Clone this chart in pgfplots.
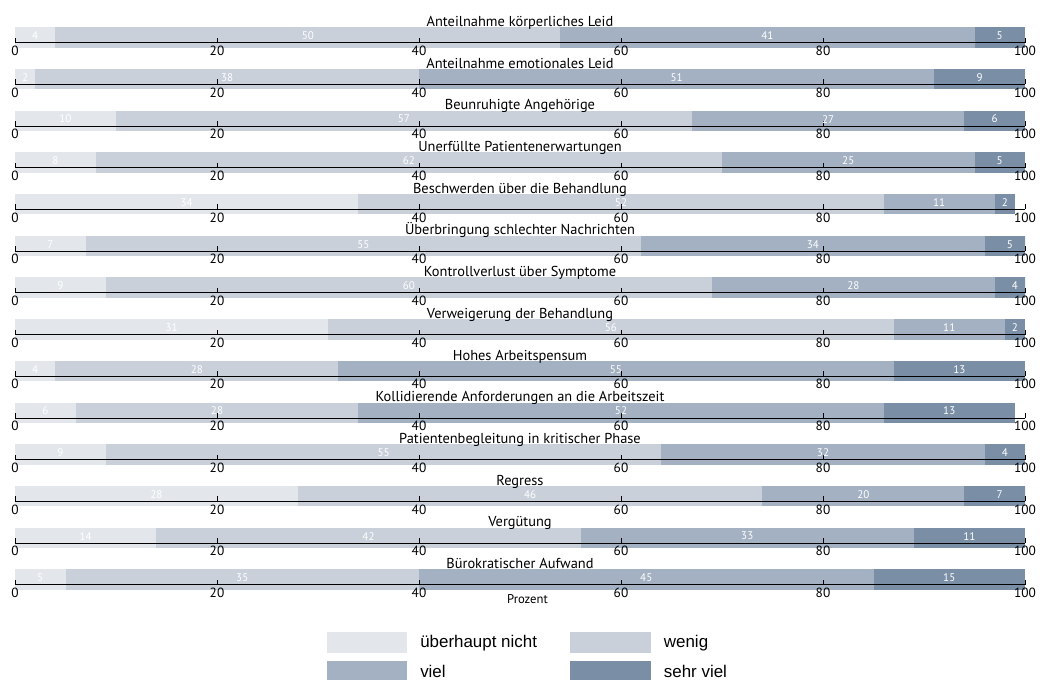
\documentclass[border=0pt]{standalone}
\usepackage{fontspec}
\setmainfont{PT Sans}
\newfontfamily\arialfont{Liberation Sans}
\usepackage{pgfplots}
\pgfplotsset{compat=1.18}

\definecolor{c1}{HTML}{E3E7EB}
\definecolor{c2}{HTML}{C9D0DA}
\definecolor{c3}{HTML}{A3B1C2}
\definecolor{c4}{HTML}{7A8EA6}

\pgfplotsset{
 barframe/.style={
  scale only axis, width=757.5pt, height=15.3pt,
  anchor=south west, hide axis,
  xmin=0, xmax=100, ymin=-5, ymax=15.4,
  xbar stacked, bar width=20.4,
 },
 lineframe/.style={
  scale only axis, width=757.5pt, height=11.55pt,
  anchor=south west,
  xmin=0, xmax=100, ymin=0, ymax=15.4,
  axis y line=none, axis x line=bottom,
  axis line style={-, black, line width=0.6pt},
  xtick={0,20,40,60,80,100}, ytick=\empty,
  xtick align=inside, major tick length=3.75pt,
  tick style={black, line width=0.6pt},
  /pgf/number format/assume math mode=true,
  xticklabel style={font=\fontsize{10}{11}\selectfont, anchor=north, inner sep=0pt, yshift=-2.2pt},
  every axis title shift=0pt,
  title style={font=\fontsize{10.8}{12}\selectfont, at={(0.5,1)}, anchor=base, yshift=0.6pt, inner sep=0pt},
 }}

\newcommand{\panel}[6]{%
  \pgfmathsetmacro{\yb}{-(47.7+41.7*#1)*0.75}%
  \pgfmathsetmacro{\yl}{-(42.7+41.7*#1)*0.75}%
  \pgfmathsetmacro{\ma}{#3/2}%
  \pgfmathsetmacro{\mb}{#3+#4/2}%
  \pgfmathsetmacro{\mc}{#3+#4+#5/2}%
  \pgfmathsetmacro{\md}{#3+#4+#5+#6/2}%
  \begin{axis}[barframe, at={(11.25pt,\yb pt)}]
    \addplot[fill=c1, draw=none] coordinates {(#3,5.2)};
    \addplot[fill=c2, draw=none] coordinates {(#4,5.2)};
    \addplot[fill=c3, draw=none] coordinates {(#5,5.2)};
    \addplot[fill=c4, draw=none] coordinates {(#6,5.2)};
  \end{axis}%
  \begin{axis}[lineframe, at={(11.25pt,\yl pt)}, title={#2}]
    \addplot[draw=none, nodes near coords,
      point meta=explicit symbolic,
      every node near coord/.style={anchor=center, inner sep=0pt, text=white,
        font=\fontsize{8.3}{9}\selectfont}]
      coordinates {(\ma,7) [#3] (\mb,7) [#4] (\mc,7) [#5] (\md,7) [#6]};
  \end{axis}%
}

\begin{document}
\begin{tikzpicture}
\path[use as bounding box] (0pt,0pt) rectangle (780pt,-510pt);
\panel{0}{Anteilnahme körperliches Leid}{4}{50}{41}{5}
\panel{1}{Anteilnahme emotionales Leid}{2}{38}{51}{9}
\panel{2}{Beunruhigte Angehörige}{10}{57}{27}{6}
\panel{3}{Unerfüllte Patientenerwartungen}{8}{62}{25}{5}
\panel{4}{Beschwerden über die Behandlung}{34}{52}{11}{2}
\panel{5}{Überbringung schlechter Nachrichten}{7}{55}{34}{5}
\panel{6}{Kontrollverlust über Symptome}{9}{60}{28}{4}
\panel{7}{Verweigerung der Behandlung}{31}{56}{11}{2}
\panel{8}{Hohes Arbeitspensum}{4}{28}{55}{13}
\panel{9}{Kollidierende Anforderungen an die Arbeitszeit}{6}{28}{52}{13}
\panel{10}{Patientenbegleitung in kritischer Phase}{9}{55}{32}{4}
\panel{11}{Regress}{28}{46}{20}{7}
\panel{12}{Vergütung}{14}{42}{33}{11}
\panel{13}{Bürokratischer Aufwand}{5}{35}{45}{15}
\node[font=\fontsize{9.5}{10}\selectfont, anchor=center, inner sep=0pt] at (395.6pt,-449.3pt) {Prozent};
\begin{axis}[at={(245pt,-473.8pt)}, anchor=north west, hide axis, scale only axis,
  width=1pt, height=1pt, xmin=0, xmax=1, ymin=0, ymax=1,
  legend columns=2,
  legend style={at={(0,1)}, anchor=north west, draw=none, fill=none,
    inner sep=0pt, outer sep=0pt, nodes={inner sep=0pt},
    font=\arialfont\fontsize{12.7}{14}\selectfont,
    row sep=5.8pt, /tikz/column 2/.style={column sep=25pt}},
  legend cell align=left,
  legend image code/.code={\fill[#1] (0pt,-8.1pt) rectangle (60.45pt,8.1pt); \path (70.2pt,0pt);}]
  \addlegendimage{fill=c1, draw=none}
  \addlegendentry{überhaupt nicht}
  \addlegendimage{fill=c2, draw=none}
  \addlegendentry{wenig}
  \addlegendimage{fill=c3, draw=none}
  \addlegendentry{viel}
  \addlegendimage{fill=c4, draw=none}
  \addlegendentry{sehr viel}
\end{axis}
\end{tikzpicture}
\end{document}
